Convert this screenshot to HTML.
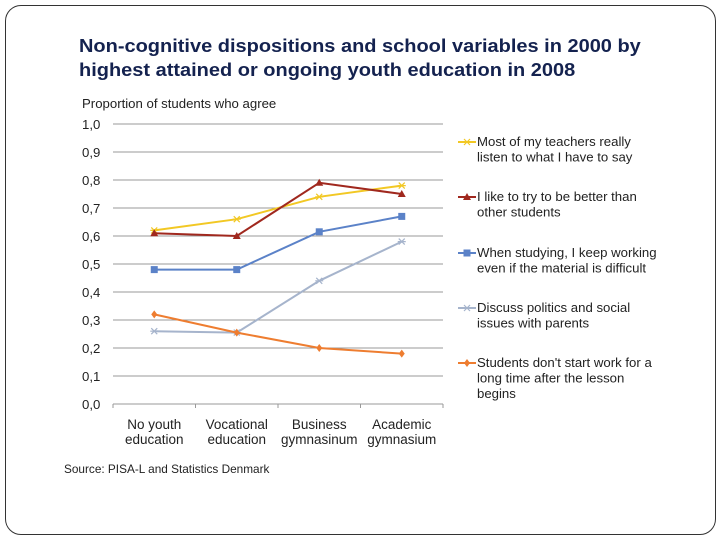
<!DOCTYPE html>
<html><head><meta charset="utf-8"><style>
body{margin:0;width:720px;height:540px;background:#fff;font-family:"Liberation Sans",sans-serif;overflow:hidden}
#frame{position:absolute;left:5px;top:5px;width:709px;height:528px;border:1px solid #333;border-radius:16px}
#title{position:absolute;left:79px;top:34px;font-size:18px;font-weight:bold;color:#14224f;line-height:24px;transform:scaleX(1.11);transform-origin:0 0;white-space:nowrap}
</style></head><body>
<div id="frame"></div>
<div id="title">Non-cognitive dispositions and school variables in 2000 by<br>highest attained or ongoing youth education in 2008</div>
<svg id="chart" width="720" height="540" style="position:absolute;left:0;top:0"></svg>
<script>
const categories=[["No youth","education"],["Vocational","education"],["Business","gymnasinum"],["Academic","gymnasium"]];
const yTicks=["0,0","0,1","0,2","0,3","0,4","0,5","0,6","0,7","0,8","0,9","1,0"];
const seriesNames=[["Most of my teachers really","listen to what I have to say"],["I like to try to be better than","other students"],["When studying, I keep working","even if the material is difficult"],["Discuss politics and social","issues with parents"],["Students don't start work for a","long time after the lesson","begins"]];
const teachers=[0.62,0.66,0.74,0.78];
const better=[0.61,0.60,0.79,0.75];
const working=[0.48,0.48,0.615,0.67];
const politics=[0.26,0.255,0.44,0.58];
const lateStart=[0.32,0.255,0.20,0.18];
const seriesValues=[teachers,better,working,politics,lateStart];
const colors=["#f2c824","#a0281e","#5b82c8","#a6b4cc","#ee7d30"];
const markers=["x","tri","sq","x","dia"];
const svg=document.getElementById('chart');
const NS="http://www.w3.org/2000/svg";
const x0=113,x1=443,yTop=124,yBot=404;
const y=v=>yBot-(yBot-yTop)*v;
const x=i=>x0+(x1-x0)/categories.length*(i+0.5);
function mk(t,a,parent){const e=document.createElementNS(NS,t);for(const k in a)e.setAttribute(k,a[k]);(parent||svg).appendChild(e);return e;}
let t=mk('text',{x:82,y:108,'font-size':13.2,fill:'#222'});t.textContent="Proportion of students who agree";


yTicks.forEach((lab,i)=>{const v=i/10;
 const l=mk('line',{x1:x0,x2:x1,y1:y(v),y2:y(v),stroke:'#999','stroke-width':1});
 
 
 const tx=mk('text',{x:82,y:y(v)+5,'font-size':13.2,fill:'#222'});tx.textContent=lab;
 
 
});
for(let i=0;i<=categories.length;i++){const xx=x0+(x1-x0)/categories.length*i;mk('line',{x1:xx,x2:xx,y1:yBot,y2:yBot+4,stroke:'#999'});}
categories.forEach((c,i)=>{c.forEach((s,j)=>{const tx=mk('text',{x:x(i),y:429+j*15,'font-size':13.5,'text-anchor':'middle',fill:'#222'});tx.textContent=s;
 
 });});
function marker(type,cx,cy,col,g){
 if(type=="x"){mk('path',{d:`M${cx-3},${cy-3}L${cx+3},${cy+3}M${cx-3},${cy+3}L${cx+3},${cy-3}M${cx-4},${cy}L${cx+4},${cy}`,stroke:col,'stroke-width':1.2},g);}
 else if(type=="tri"){mk('path',{d:`M${cx},${cy-4}L${cx+4},${cy+3}L${cx-4},${cy+3}Z`,fill:col},g);}
 else if(type=="sq"){mk('rect',{x:cx-3.5,y:cy-3.5,width:7,height:7,fill:col},g);}
 else {mk('path',{d:`M${cx},${cy-4}L${cx+3},${cy}L${cx},${cy+4}L${cx-3},${cy}Z`,fill:col},g);}
}
seriesValues.forEach((vals,s)=>{
 const g=mk('g',{});
 
 
 mk('polyline',{points:vals.map((v,i)=>x(i)+','+y(v)).join(' '),fill:'none',stroke:colors[s],'stroke-width':2},g);
 vals.forEach((v,i)=>marker(markers[s],x(i),y(v),colors[s],g));
 const ly=[142,197,253,308,363][s];
 const lg=mk('g',{});
 
 
 mk('line',{x1:458,x2:476,y1:ly,y2:ly,stroke:colors[s],'stroke-width':2},lg);
 marker(markers[s],467,ly,colors[s],lg);
 seriesNames[s].forEach((n,j)=>{const tx=mk('text',{x:477,y:ly+4+j*15.5,'font-size':13.2,fill:'#222'},lg);tx.textContent=n;});
});
t=mk('text',{x:64,y:473,'font-size':11.8,fill:'#222'});t.textContent="Source: PISA-L and Statistics Denmark";


</script>
</body></html>
